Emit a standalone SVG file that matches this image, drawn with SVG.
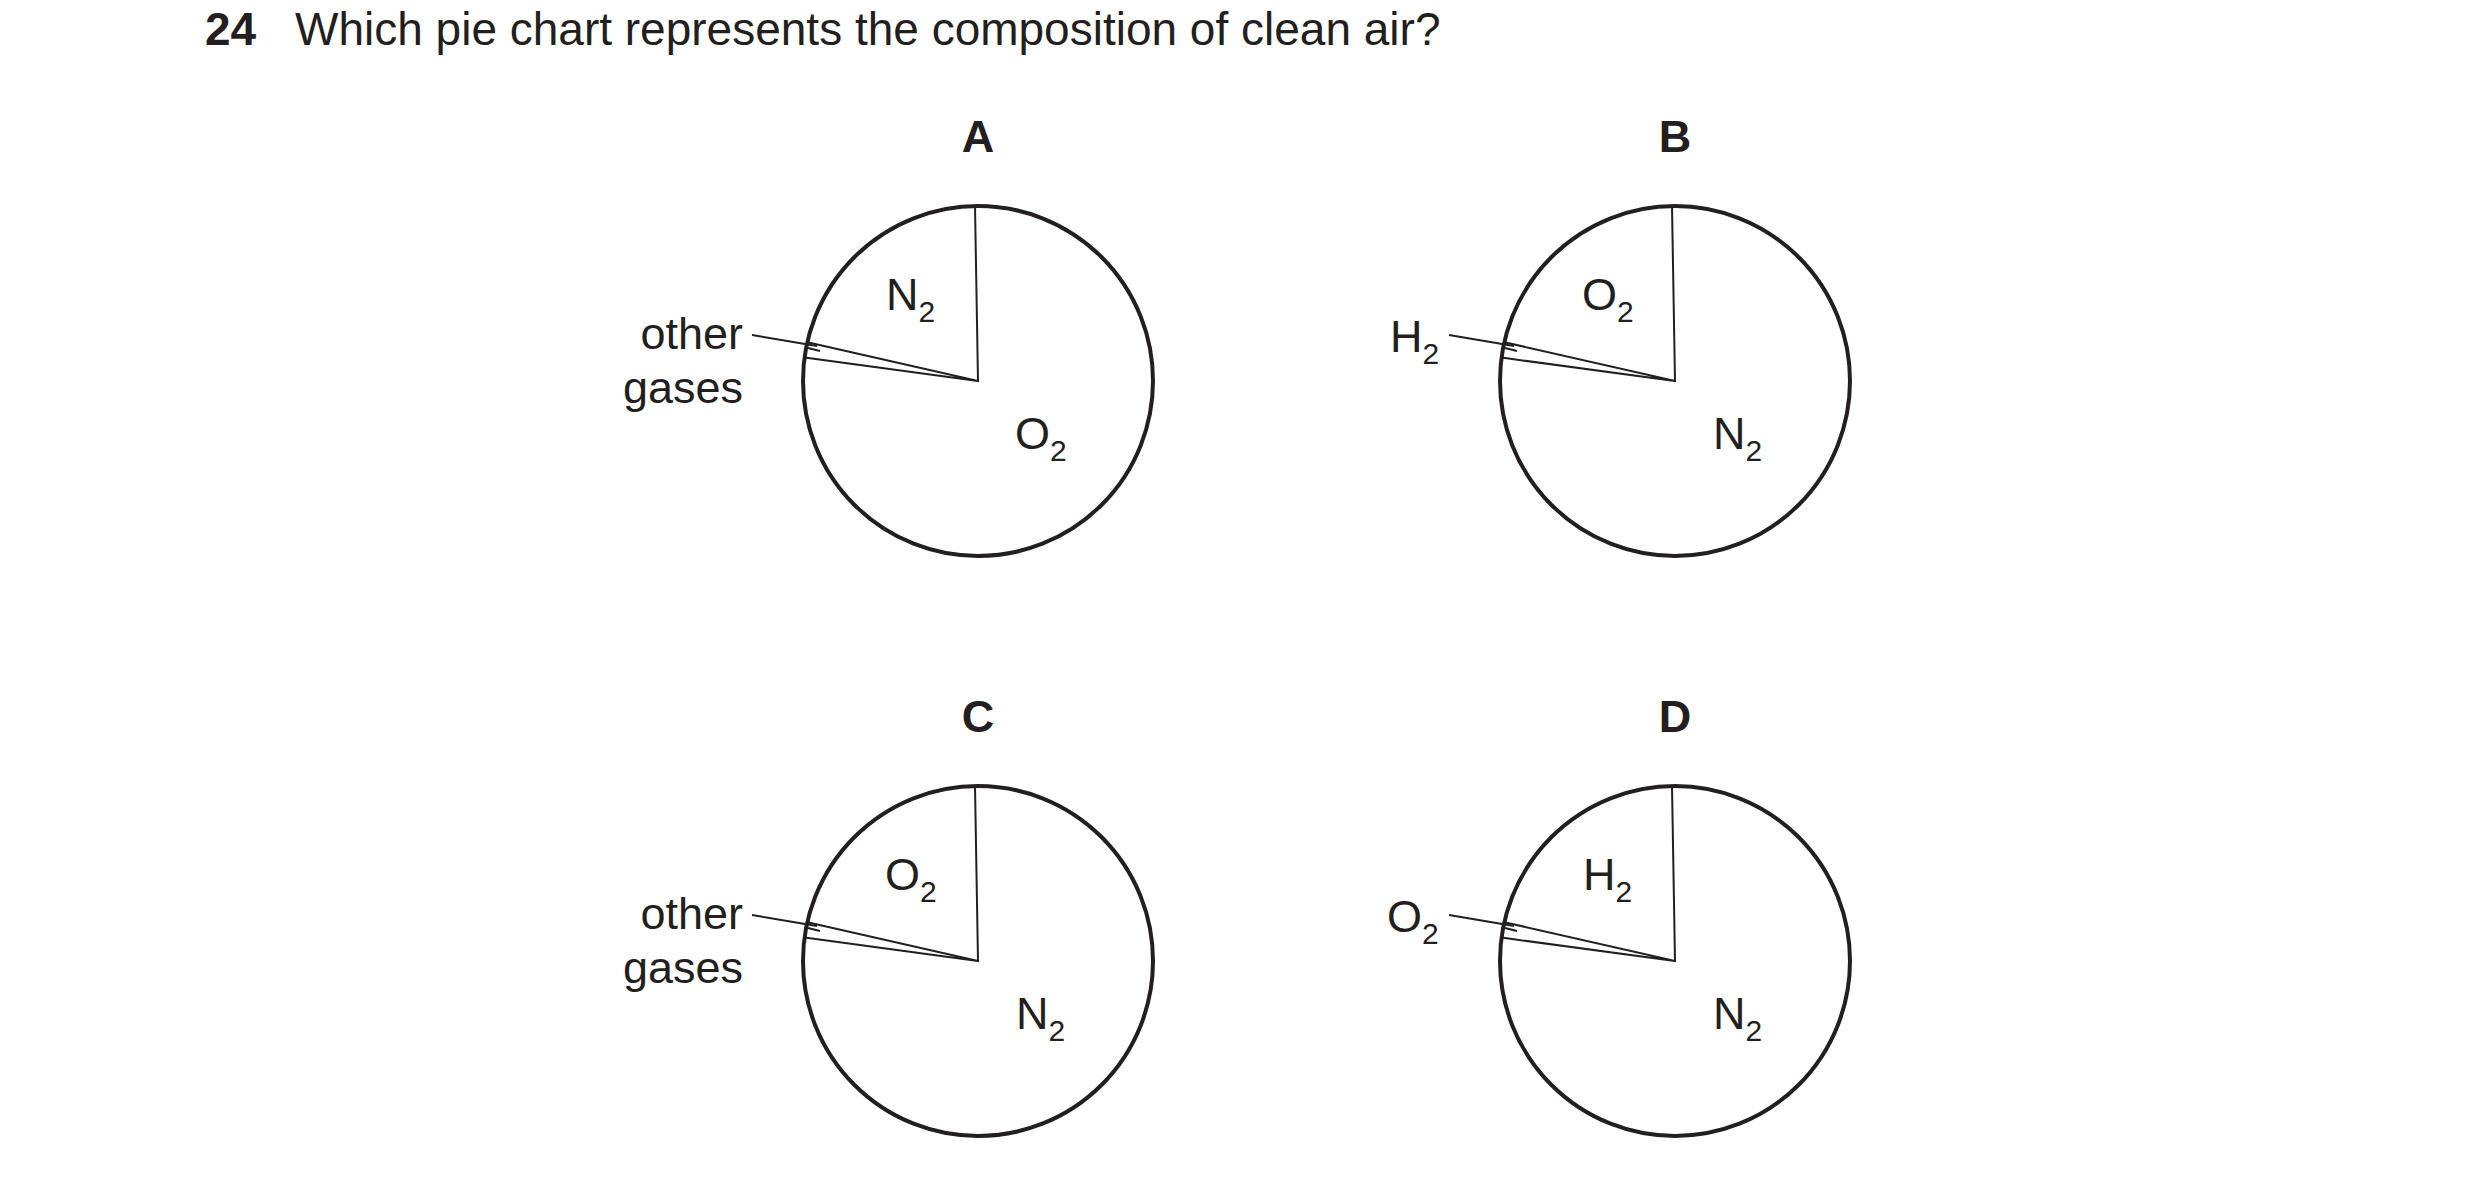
<svg xmlns="http://www.w3.org/2000/svg" width="2480" height="1180" viewBox="0 0 2480 1180">
<style>
text{font-family:"Liberation Sans",Arial,sans-serif;fill:#231f20}
.t{font-size:46px}
.b{font-weight:bold}
.l{font-size:45px}
.s{font-size:30px}
.c{fill:none;stroke:#231f20;stroke-width:4}
.w{fill:none;stroke:#231f20;stroke-width:2}
</style>
<rect width="2480" height="1180" fill="#fff"/>
<text class="t b" x="205" y="45">24</text>
<text class="t" x="295" y="45">Which pie chart represents the composition of clean air?</text>
<defs>
<g id="pie">
<circle class="c" cx="0" cy="0" r="175"/>
<path class="w" d="M-3,-175 L0,0 L-170.6,-38.8 M0,0 L-173.4,-23.4 M-170,-33 L-158,-30"/>
</g>
</defs>
<g id="pieA" transform="translate(978,381)">
<use href="#pie"/>
<text class="l b" x="0" y="-229" text-anchor="middle">A</text>
<path class="w" d="M-226,-46 L-161,-35"/>
<text class="l" x="-235" y="-32" text-anchor="end">other</text>
<text class="l" x="-235" y="22" text-anchor="end">gases</text>
<text class="l" x="-92" y="-71">N<tspan class="s" dy="12">2</tspan></text>
<text class="l" x="37" y="68">O<tspan class="s" dy="12">2</tspan></text>
</g>
<g id="pieB" transform="translate(1675,381)">
<use href="#pie"/>
<text class="l b" x="0" y="-229" text-anchor="middle">B</text>
<path class="w" d="M-226,-46 L-161,-35"/>
<text class="l" x="-285" y="-29">H<tspan class="s" dy="12">2</tspan></text>
<text class="l" x="-93" y="-71">O<tspan class="s" dy="12">2</tspan></text>
<text class="l" x="38" y="68">N<tspan class="s" dy="12">2</tspan></text>
</g>
<g id="pieC" transform="translate(978,961)">
<use href="#pie"/>
<text class="l b" x="0" y="-229" text-anchor="middle">C</text>
<path class="w" d="M-226,-46 L-161,-35"/>
<text class="l" x="-235" y="-32" text-anchor="end">other</text>
<text class="l" x="-235" y="22" text-anchor="end">gases</text>
<text class="l" x="-93" y="-71">O<tspan class="s" dy="12">2</tspan></text>
<text class="l" x="38" y="68">N<tspan class="s" dy="12">2</tspan></text>
</g>
<g id="pieD" transform="translate(1675,961)">
<use href="#pie"/>
<text class="l b" x="0" y="-229" text-anchor="middle">D</text>
<path class="w" d="M-226,-46 L-161,-35"/>
<text class="l" x="-288" y="-29">O<tspan class="s" dy="12">2</tspan></text>
<text class="l" x="-92" y="-71">H<tspan class="s" dy="12">2</tspan></text>
<text class="l" x="38" y="68">N<tspan class="s" dy="12">2</tspan></text>
</g>
</svg>
